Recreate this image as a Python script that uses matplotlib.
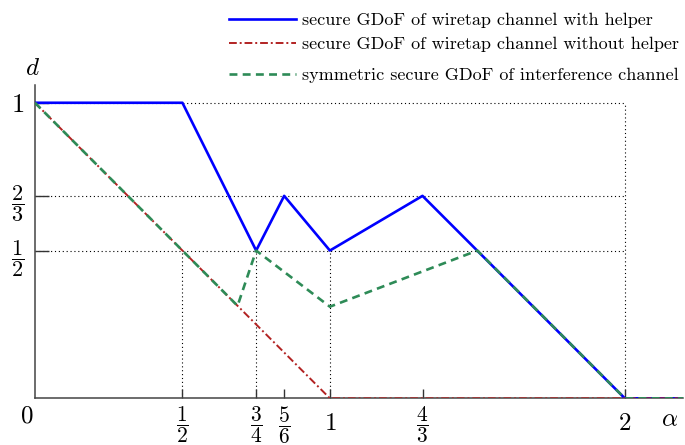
import matplotlib
matplotlib.use("Agg")
import matplotlib.pyplot as plt
from matplotlib.lines import Line2D

plt.rcParams['mathtext.fontset'] = 'cm'
plt.rcParams['font.family'] = 'serif'
plt.rcParams['font.serif'] = ['cmr10', 'DejaVu Serif']

# piecewise-linear curves
# (the picture puts 5/6, 4/3 and 2/3 slightly off their exact values)
alpha_helper = [0, 0.5, 0.75, 0.845, 1, 1.314, 2, 2.2]
d_helper = [1, 1, 0.5, 0.685, 0.5, 0.685, 0, 0]

alpha_nohelper = [0, 1, 2.2]
d_nohelper = [1, 0, 0]

alpha_ic = [0, 0.687, 0.75, 1, 1.5, 2, 2.2]
d_ic = [1, 0.313, 0.5, 0.31, 0.5, 0, 0]

labels = ['secure GDoF of wiretap channel with helper',
          'secure GDoF of wiretap channel without helper',
          'symmetric secure GDoF of interference channel']

xticks = [0.5, 0.75, 0.845, 1, 1.314, 2]
xtick_labels = [r'$\dfrac{1}{2}$', r'$\dfrac{3}{4}$', r'$\dfrac{5}{6}$', r'$1$', r'$\dfrac{4}{3}$', r'$2$']
yticks = [0.5, 0.685, 1]
ytick_labels = [r'$\dfrac{1}{2}$', r'$\dfrac{2}{3}$', r'$1$']

colors = ['#0000ff', '#b22222', '#2e8b57']
styles = ['-', (0, (4, 1.5, 1, 1.5)), (0, (3, 2))]
widths = [1.9, 1.4, 1.9]

fig = plt.figure(figsize=(6.85, 4.45), dpi=100)
ax = fig.add_axes([0.051, 0.1049, 0.946, 0.704])

# dotted guide lines
gl = dict(color='black', ls=(0, (1, 2.5)), lw=0.8, zorder=1)
for y in yticks:
    ax.plot([0, 2], [y, y], **gl)
ax.plot([2, 2], [0, 1], **gl)
for x in [0.5, 0.75, 1]:
    ax.plot([x, x], [0, 0.5], **gl)

ax.plot(alpha_helper, d_helper, color=colors[0], lw=widths[0], ls=styles[0], zorder=3)
ax.plot(alpha_nohelper, d_nohelper, color=colors[1], lw=widths[1], ls=styles[1], zorder=4)
ax.plot(alpha_ic, d_ic, color=colors[2], lw=widths[2], ls=styles[2], zorder=5)

ax.set_xlim(0, 2.197)
ax.set_ylim(0, 1.06)
for s in ['top', 'right']:
    ax.spines[s].set_visible(False)
for s in ['left', 'bottom']:
    ax.spines[s].set_color('#444444')
    ax.spines[s].set_linewidth(1.1)

ax.set_xticks(xticks)
ax.set_xticklabels(xtick_labels, fontsize=15.5)
ax.set_yticks(yticks)
ax.set_yticklabels(ytick_labels, fontsize=16)
ax.tick_params(axis='x', direction='in', length=6.5, width=1, color='#333333', pad=4)
ax.tick_params(axis='y', direction='in', length=10, width=1, color='#333333', pad=8)
# the plain "1" and "2" are set larger than the fractions
for t in ax.get_xticklabels():
    if 'frac' not in t.get_text():
        t.set_fontsize(18)
        t.set_y(-0.03)
for t in ax.get_yticklabels():
    if 'frac' not in t.get_text():
        t.set_fontsize(19)

ax.text(-0.027, -0.023, r'$0$', fontsize=18, ha='center', va='top')
ax.text(-0.007, 1.094, r'$d$', fontsize=18, ha='center', va='baseline')
ax.text(2.153, -0.035, r'$\alpha$', fontsize=18, ha='center', va='top')

# legend drawn by hand: rows are unevenly spaced in the picture
rows_y = [19, 43, 74]
H, W = 445, 685
for c, st, lw, lab, yp in zip(colors, styles, widths, labels, rows_y):
    fy = 1 - yp / H
    fig.add_artist(Line2D([229 / W, 296 / W], [fy, fy], color=c, ls=st, lw=lw))
    fig.text(302 / W, fy, lab, fontsize=13, ha='left', va='center_baseline')

fig.savefig('out.png', dpi=100)
